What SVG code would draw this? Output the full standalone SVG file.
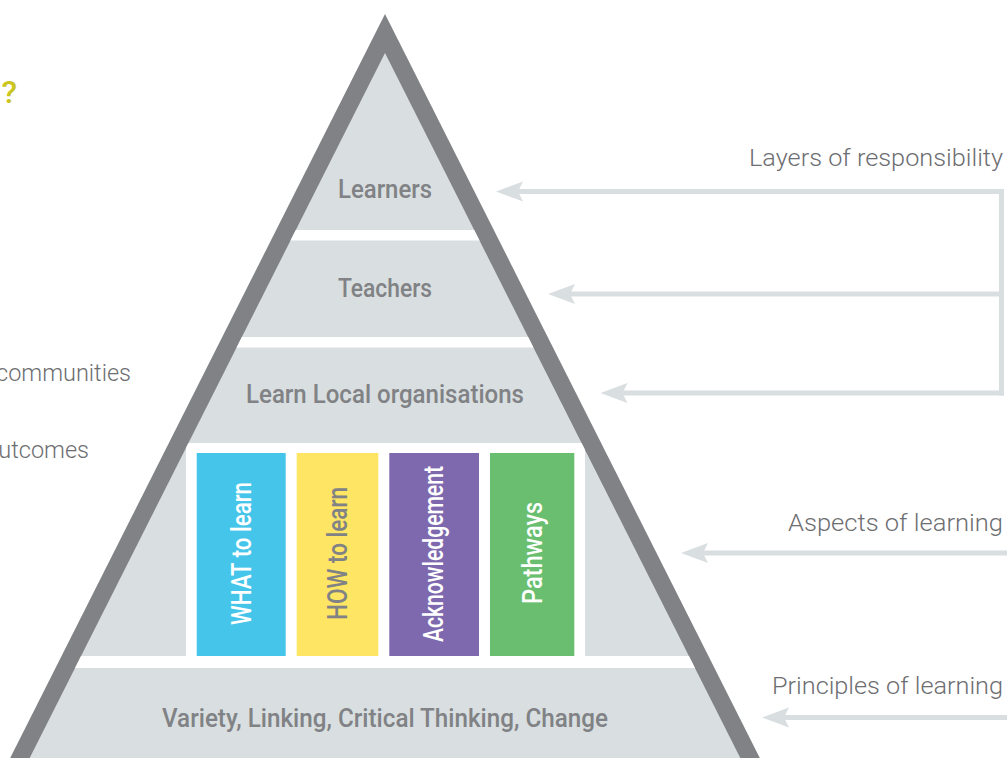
<svg xmlns="http://www.w3.org/2000/svg" width="1007" height="758" viewBox="0 0 1007 758">
<style>
.lbl{font-family:Roboto,"Liberation Sans",sans-serif;font-weight:500;fill:#808285;font-size:25px;text-anchor:middle}
.pil{font-family:Roboto,"Liberation Sans",sans-serif;font-weight:500;font-size:27px;text-anchor:middle}
.side{font-family:Roboto,"Liberation Sans",sans-serif;font-weight:300;fill:#6d6e71;font-size:23.5px;text-anchor:end}
.conn{stroke:#d9dee0;stroke-width:5;fill:none}
.sep{fill:#ffffff}
</style>
<defs>
<clipPath id="inner"><polygon points="385,53 5.5,806 764.5,806"/></clipPath>
<marker id="ah" markerUnits="userSpaceOnUse" markerWidth="30" markerHeight="24" viewBox="0 -12 30 24" refX="5" refY="0" orient="auto">
<path d="M0,-10 L27,0 L0,10 L5,0 Z" fill="#d9dee0"/>
</marker>
</defs>
<rect width="1007" height="758" fill="#ffffff"/>

<g id="left-texts">
<text x="1.5" y="103" style="font-family:Roboto,'Liberation Sans',sans-serif;font-weight:500;font-size:32px;fill:#cbc51f">?</text>
<text class="side" x="131" y="381" style="text-anchor:end">communities</text>
<text class="side" x="89" y="458" style="text-anchor:end">utcomes</text>
</g>

<g id="pyramid">
<polygon points="385,14 -14,806 784,806" fill="#808285"/>
<polygon points="385,53 5.5,806 764.5,806" fill="#d9dee0"/>
<g clip-path="url(#inner)">
<rect class="sep" x="0" y="230" width="800" height="10.5"/>
<rect class="sep" x="0" y="337" width="800" height="10.5"/>
<rect class="sep" x="186" y="443" width="399" height="214"/>
<rect class="sep" x="0" y="656" width="800" height="12"/>
</g>
</g>

<g id="learners"><text class="lbl" x="385" y="198" textLength="94" lengthAdjust="spacingAndGlyphs">Learners</text></g>
<g id="teachers"><text class="lbl" x="385" y="297" textLength="94" lengthAdjust="spacingAndGlyphs">Teachers</text></g>
<g id="learn-local"><text class="lbl" x="385" y="403" textLength="278" lengthAdjust="spacingAndGlyphs">Learn Local organisations</text></g>

<g id="what-to-learn">
<rect x="196.7" y="453" width="89" height="203" fill="#45c5ea"/>
<text class="pil" transform="translate(251,553.5) rotate(-90)" fill="#ffffff" textLength="143" lengthAdjust="spacingAndGlyphs">WHAT to learn</text>
</g>
<g id="how-to-learn">
<rect x="296.7" y="453" width="81.6" height="203" fill="#fee563"/>
<text class="pil" transform="translate(346.7,553.5) rotate(-90)" fill="#808285" textLength="133" lengthAdjust="spacingAndGlyphs">HOW to learn</text>
</g>
<g id="acknowledgement">
<rect x="389.3" y="453" width="89.7" height="203" fill="#7e69ae"/>
<text class="pil" transform="translate(443,554) rotate(-90)" fill="#ffffff" textLength="176" lengthAdjust="spacingAndGlyphs">Acknowledgement</text>
</g>
<g id="pathways">
<rect x="490" y="453" width="84.3" height="203" fill="#69bf6f"/>
<text class="pil" transform="translate(541.5,553) rotate(-90)" fill="#ffffff" textLength="102" lengthAdjust="spacingAndGlyphs">Pathways</text>
</g>

<g id="principles"><text class="lbl" x="385" y="727" style="font-size:26px" textLength="446" lengthAdjust="spacingAndGlyphs">Variety, Linking, Critical Thinking, Change</text></g>

<g id="side-labels">
<text class="side" x="1003" y="166" textLength="254" lengthAdjust="spacingAndGlyphs">Layers of responsibility</text>
<text class="side" x="1003" y="530.5" textLength="215" lengthAdjust="spacingAndGlyphs">Aspects of learning</text>
<text class="side" x="1003" y="694" textLength="231" lengthAdjust="spacingAndGlyphs">Principles of learning</text>
</g>

<g id="connectors">
<path class="conn" d="M1001.5,189 V395.5"/>
<path class="conn" d="M1004,191.5 H518" marker-end="url(#ah)"/>
<path class="conn" d="M1004,294 H570" marker-end="url(#ah)"/>
<path class="conn" d="M1004,393 H622.5" marker-end="url(#ah)"/>
<path class="conn" d="M1007,553 H703" marker-end="url(#ah)"/>
<path class="conn" d="M1007,717.5 H784" marker-end="url(#ah)"/>
</g>
</svg>
